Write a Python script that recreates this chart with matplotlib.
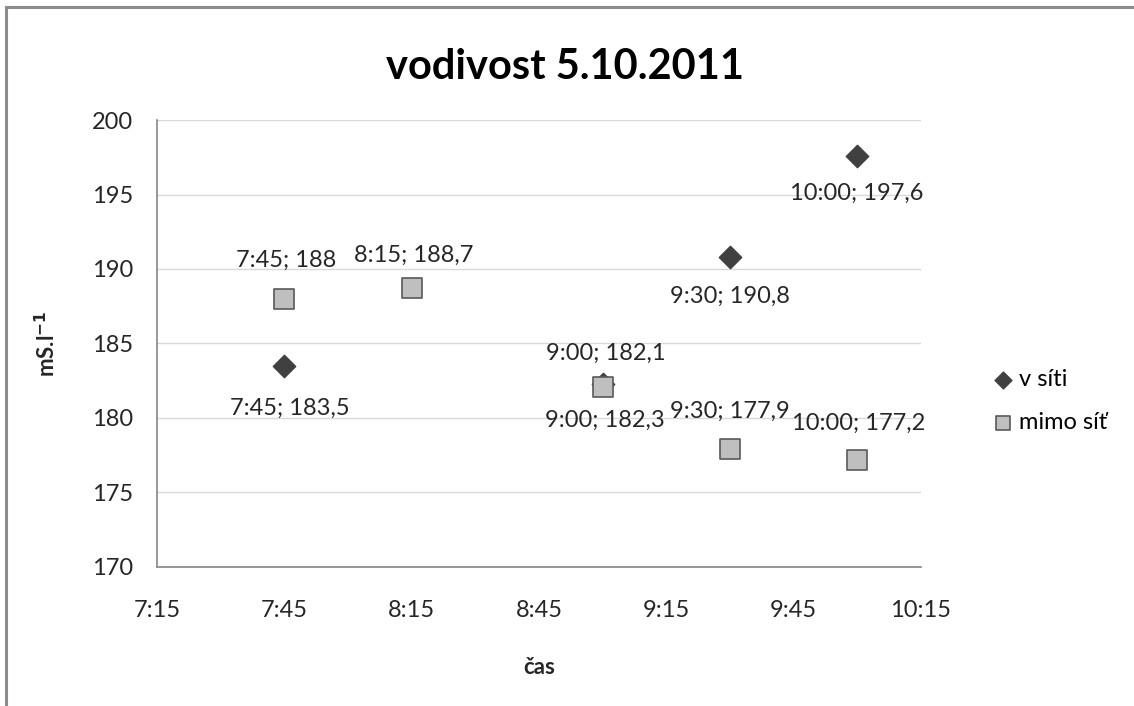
import matplotlib

matplotlib.use('Agg')
import matplotlib.pyplot as plt
from matplotlib.patches import Rectangle
from matplotlib.ticker import FixedLocator, FuncFormatter

plt.rcParams['font.family'] = ['Lato', 'DejaVu Sans']

# measured conductivity, two sampling sites
v_siti_times = ['7:45', '9:00', '9:30', '10:00']
v_siti_values = [183.5, 182.3, 190.8, 197.6]

mimo_times = ['7:45', '8:15', '9:00', '9:30', '10:00']
mimo_values = [188, 188.7, 182.1, 177.9, 177.2]

x_ticks = ['7:15', '7:45', '8:15', '8:45', '9:15', '9:45', '10:15']
y_ticks = [170, 175, 180, 185, 190, 195, 200]

# label offsets in pixels (dx, dy) relative to each point
v_siti_offsets = [(6, -43), (2, -37), (0, -39), (0, -38)]
mimo_offsets = [(2, 38), (2, 33), (3, 33), (0, 38), (1, 36)]

FS = 17


def to_minutes(t):
    h, m = t.split(':')
    return int(h) * 60 + int(m)


def fmt_minutes(x, pos=None):
    x = int(round(x))
    return f'{x // 60}:{x % 60:02d}'


fig = plt.figure(figsize=(11.34, 7.06), dpi=100)
ax = fig.add_axes([0.1384, 0.197, 0.6736, 0.633])

# frame around the whole chart (only top and left edges visible)
fig.patches.append(Rectangle((6 / 1134, -0.1), 1.2, 0.1 + (706 - 7) / 706,
                             transform=fig.transFigure, fill=False,
                             edgecolor='#8c8c8c', linewidth=2.2))

xv = [to_minutes(t) for t in v_siti_times]
xm = [to_minutes(t) for t in mimo_times]

ax.scatter(xv, v_siti_values, marker='D', s=130, color='#404040',
           edgecolor='#404040', zorder=3, label='v síti')
ax.scatter(xm, mimo_values, marker='s', s=200, color='#bfbfbf',
           edgecolor='#595959', linewidth=1.2, zorder=4, label='mimo síť')

for t, v, (dx, dy) in zip(v_siti_times, v_siti_values, v_siti_offsets):
    ax.annotate(f'{t}; {v:g}'.replace('.', ','), (to_minutes(t), v),
                xytext=(dx, dy), textcoords='offset pixels',
                ha='center', va='center', fontsize=FS, color='#262626')
for t, v, (dx, dy) in zip(mimo_times, mimo_values, mimo_offsets):
    ax.annotate(f'{t}; {v:g}'.replace('.', ','), (to_minutes(t), v),
                xytext=(dx, dy), textcoords='offset pixels',
                ha='center', va='center', fontsize=FS, color='#262626')

xt = [to_minutes(t) for t in x_ticks]
ax.set_xlim(xt[0], xt[-1])
ax.set_ylim(y_ticks[0], y_ticks[-1])
ax.xaxis.set_major_locator(FixedLocator(xt))
ax.xaxis.set_major_formatter(FuncFormatter(fmt_minutes))
ax.set_yticks(y_ticks)

ax.tick_params(length=0, labelsize=FS, labelcolor='#262626')
ax.tick_params(axis='x', pad=24)
ax.tick_params(axis='y', pad=17)
ax.grid(axis='y', color='#d9d9d9', linewidth=1)
ax.set_axisbelow(True)
for side in ['top', 'right']:
    ax.spines[side].set_visible(False)
for side in ['left', 'bottom']:
    ax.spines[side].set_color('#868686')
    ax.spines[side].set_linewidth(1.2)

ax.set_xlabel('čas', fontsize=16, fontweight='bold', labelpad=26, color='#262626')
ax.set_ylabel('mS.l$^{\\mathbf{-1}}$', fontsize=16, fontweight='bold', labelpad=24,
              color='#262626')
fig.text(0.498, 0.905, 'vodivost 5.10.2011', ha='center', va='center',
         fontsize=30, fontweight='bold', color='#000000')

ax.legend(loc='center left', bbox_to_anchor=(1.08, 0.371), frameon=False,
          fontsize=FS, handlelength=1.0, handletextpad=0.15, labelspacing=0.95,
          markerscale=0.75, borderaxespad=0)

plt.savefig('out.png')
